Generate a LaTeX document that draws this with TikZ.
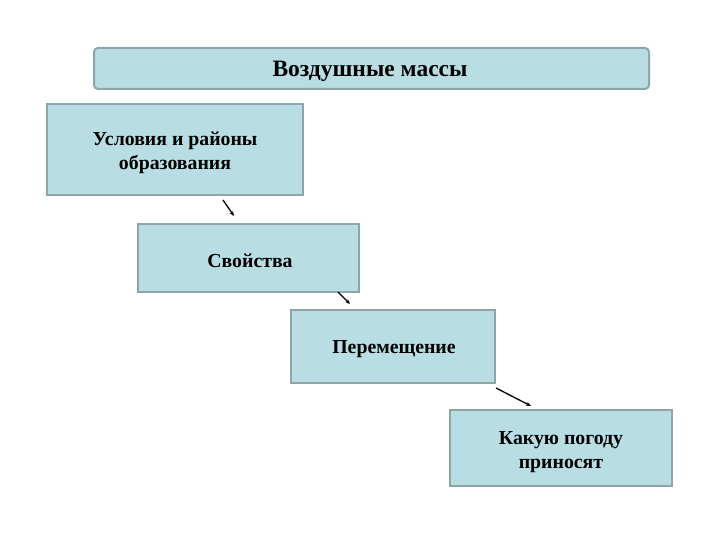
\documentclass[tikz,border=0pt]{standalone}
\usepackage{fontspec}
\setmainfont{Liberation Serif}
\definecolor{boxfill}{HTML}{B8DEE3}
\definecolor{boxdraw}{HTML}{8FA6A9}
\usetikzlibrary{arrows.meta}
\tikzset{
  x=1pt,y=-1pt,
  box/.style={draw=boxdraw,line width=2pt,fill=boxfill,inner sep=0pt},
  boxtext/.style={inner sep=0pt,align=center,font=\bfseries\fontsize{19.8}{23.5}\selectfont},
  titlebox/.style={box,rounded corners=4pt},
  titletext/.style={font=\bfseries\fontsize{23.5}{27}\selectfont,inner sep=0pt},
  conn/.style={-{Stealth[length=5pt,width=4pt]},line width=1.3pt,black}
}
\begin{document}
\begin{tikzpicture}
\useasboundingbox (0,0) rectangle (720,540);
\node[titlebox,minimum width=555pt,minimum height=41pt] (title) at (371.5,68.5) {};
\node[titletext] (titlelabel) at (370,71) {Воздушные массы};
\node[box,minimum width=256pt,minimum height=91pt] (b1) at (175,149.5) {};
\node[boxtext] (b1t) at (175,153) {Условия и районы\\образования};
\node[box,minimum width=221pt,minimum height=68pt] (b2) at (248.5,258) {};
\node[boxtext] (b2t) at (250,261) {Свойства};
\node[box,minimum width=204pt,minimum height=73pt] (b3) at (393,346.5) {};
\node[boxtext] (b3t) at (394,349) {Перемещение};
\node[box,minimum width=222pt,minimum height=76pt] (b4) at (561,448) {};
\node[boxtext] (b4t) at (561,452) {Какую погоду\\приносят};
\coordinate (a1s) at (223,200);
\coordinate (a1e) at (234,216);
\coordinate (a2s) at (338,292);
\coordinate (a2e) at (350,304);
\coordinate (a3s) at (496,388);
\coordinate (a3e) at (531,406);
\draw[conn] (a1s) -- (a1e);
\draw[conn] (a2s) -- (a2e);
\draw[conn] (a3s) -- (a3e);
\end{tikzpicture}
\end{document}
